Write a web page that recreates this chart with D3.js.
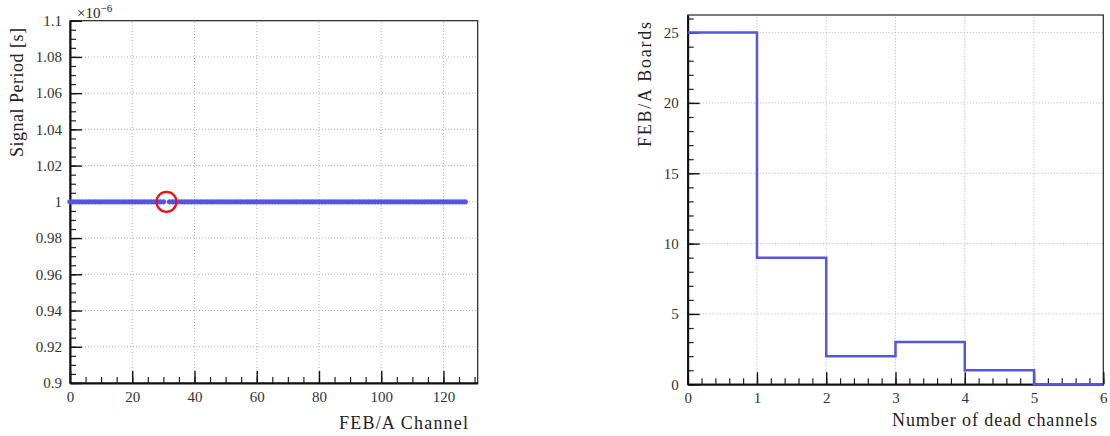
<!DOCTYPE html>
<html><head><meta charset="utf-8">
<script src="https://cdn.jsdelivr.net/npm/d3@7"></script>
<style>
body{margin:0;background:#fff;}
svg{display:block;}
svg text{font-family:"Liberation Serif","Times New Roman",serif !important;}
</style></head>
<body><svg id="c" width="1110" height="436"></svg>
<script>
// ---------- data ----------
const channels = d3.range(0, 128);
// signal period per channel in units of 1e-6 s (null = dead channel, no point)
const periods = [
 1,1,1,1,1,1,1,1,1,1,1,1,1,1,1,1,
 1,1,1,1,1,1,1,1,1,1,1,1,1,1,1,null,
 1,1,1,1,1,1,1,1,1,1,1,1,1,1,1,1,
 1,1,1,1,1,1,1,1,1,1,1,1,1,1,1,1,
 1,1,1,1,1,1,1,1,1,1,1,1,1,1,1,1,
 1,1,1,1,1,1,1,1,1,1,1,1,1,1,1,1,
 1,1,1,1,1,1,1,1,1,1,1,1,1,1,1,1,
 1,1,1,1,1,1,1,1,1,1,1,1,1,1,1,1
];
const highlightChannels = [31];
const highlightValues = [1];
const leftXTicks = [0,20,40,60,80,100,120];
const leftYTicks = [0.9,0.92,0.94,0.96,0.98,1,1.02,1.04,1.06,1.08,1.1];
const leftYTickLabels = ["0.9","0.92","0.94","0.96","0.98","1","1.02","1.04","1.06","1.08","1.1"];

const binEdges = [0,1,2,3,4,5,6];
const boardCounts = [25,9,2,3,1,0];
const rightXTicks = [0,1,2,3,4,5,6];
const rightYTicks = [0,5,10,15,20,25];

// ---------- drawing ----------
const svg = d3.select("#c");
const blue = "#5656dc";
const serif = '"Liberation Serif","Times New Roman",serif';

function panel(g, x, y, xt, yt, ytl, xMinorStep, yMinorStep, yPad){
  const [x0,x1] = x.range(), [y0,y1] = y.range();
  // grid
  g.append("g").selectAll("line").data(xt.filter(v=>v>x.domain()[0] && x(v)<x1-1)).join("line")
    .attr("x1",d=>x(d)).attr("x2",d=>x(d)).attr("y1",y0).attr("y2",y1)
    .attr("stroke","#b4b4b4").attr("stroke-width",1).attr("stroke-dasharray","1,2");
  g.append("g").selectAll("line").data(yt.filter(v=>v>y.domain()[0] && y(v)>y1+1)).join("line")
    .attr("y1",d=>y(d)).attr("y2",d=>y(d)).attr("x1",x0).attr("x2",x1)
    .attr("stroke","#b4b4b4").attr("stroke-width",1).attr("stroke-dasharray","1,2");
  // frame
  g.append("rect").attr("x",x0).attr("y",y1).attr("width",x1-x0).attr("height",y0-y1)
    .attr("fill","none").attr("stroke","#222").attr("stroke-width",1.2);
  // minor ticks
  const xd = x.domain(), yd = y.domain();
  const xm = d3.range(xd[0], xd[1]+1e-9, xMinorStep);
  const ym = d3.range(yd[0], yd[1]+1e-9, yMinorStep);
  g.append("g").attr("transform",`translate(0,${y0})`)
    .call(d3.axisBottom(x).tickValues(xm).tickSize(-6).tickFormat("").tickSizeOuter(0))
    .call(a=>a.select(".domain").remove()).selectAll("line").attr("stroke","#222").attr("stroke-width",1.2);
  g.append("g").attr("transform",`translate(${x0},0)`)
    .call(d3.axisLeft(y).tickValues(ym).tickSize(-6).tickFormat("").tickSizeOuter(0))
    .call(a=>a.select(".domain").remove()).selectAll("line").attr("stroke","#222").attr("stroke-width",1.2);
  // major ticks
  const ax = g.append("g").attr("transform",`translate(0,${y0})`)
    .call(d3.axisBottom(x).tickValues(xt).tickSize(-12).tickPadding(8).tickSizeOuter(0).tickFormat(d3.format("d")));
  ax.attr("font-family",serif).attr("font-size",15);
  ax.select(".domain").attr("stroke","#111").attr("stroke-width",2);
  ax.selectAll("line").attr("stroke","#111").attr("stroke-width",1.4);
  ax.selectAll("text").attr("fill","#333").style("font-family",serif);
  const ay = g.append("g").attr("transform",`translate(${x0},0)`)
    .call(d3.axisLeft(y).tickValues(yt).tickSize(-12).tickPadding(yPad).tickSizeOuter(0)
      .tickFormat((d,i)=>ytl? ytl[i] : d3.format("d")(d)));
  ay.attr("font-family",serif).attr("font-size",15);
  ay.select(".domain").attr("stroke","#111").attr("stroke-width",2);
  ay.selectAll("line").attr("stroke","#111").attr("stroke-width",1.4);
  ay.selectAll("text").attr("fill","#333").style("font-family",serif);
}

// ----- left panel -----
const xL = d3.scaleLinear().domain([0,131]).range([70,477.7]);
const yL = d3.scaleLinear().domain([0.9,1.1]).range([383,20.7]);
const gL = svg.append("g");
panel(gL, xL, yL, leftXTicks, leftYTicks, leftYTickLabels, 5, 0.005, 8);

const pts = channels.map((c,i)=>({c, v:periods[i]})).filter(d=>d.v!==null);
gL.append("g").selectAll("circle").data(pts).join("circle")
  .attr("cx",d=>xL(d.c)).attr("cy",d=>yL(d.v)).attr("r",2.7).attr("fill",blue);
gL.append("g").selectAll("circle").data(highlightChannels).join("circle")
  .attr("cx",d=>xL(d)).attr("cy",(d,i)=>yL(highlightValues[i])).attr("r",10)
  .attr("fill","none").attr("stroke","#e8141a").attr("stroke-width",2.3);

gL.append("text").attr("x",468).attr("y",429).attr("text-anchor","end")
  .attr("font-size",18).attr("fill","#222").attr("textLength",129).text("FEB/A Channel");
gL.append("text").attr("transform","translate(23,28) rotate(-90)").attr("text-anchor","end")
  .attr("font-size",18).attr("fill","#222").attr("textLength",129).text("Signal Period [s]");
const ex = gL.append("text").attr("x",77).attr("y",18).attr("font-size",15).attr("fill","#222");
ex.append("tspan").text("×10");
ex.append("tspan").attr("dy",-6).attr("font-size",11).text("−6");

// ----- right panel -----
const xR = d3.scaleLinear().domain([0,6]).range([687.7,1103.3]);
const yR = d3.scaleLinear().domain([0,26.25]).range([384.3,15]);
const gR = svg.append("g");
panel(gR, xR, yR, rightXTicks, rightYTicks, null, 0.2, 1, 9);

const stepPts = [];
boardCounts.forEach((c,i)=>{ stepPts.push([binEdges[i],c]); stepPts.push([binEdges[i+1],c]); });
gR.append("path").datum(stepPts)
  .attr("d", d3.line().x(d=>xR(d[0])).y(d=>yR(d[1])))
  .attr("fill","none").attr("stroke",blue).attr("stroke-width",2.5);

gR.append("text").attr("x",1097).attr("y",426).attr("text-anchor","end")
  .attr("font-size",18).attr("fill","#222").attr("textLength",205).text("Number of dead channels");
gR.append("text").attr("transform","translate(651,22) rotate(-90)").attr("text-anchor","end")
  .attr("font-size",18).attr("fill","#222").attr("textLength",125).text("FEB/A Boards");
</script></body></html>
